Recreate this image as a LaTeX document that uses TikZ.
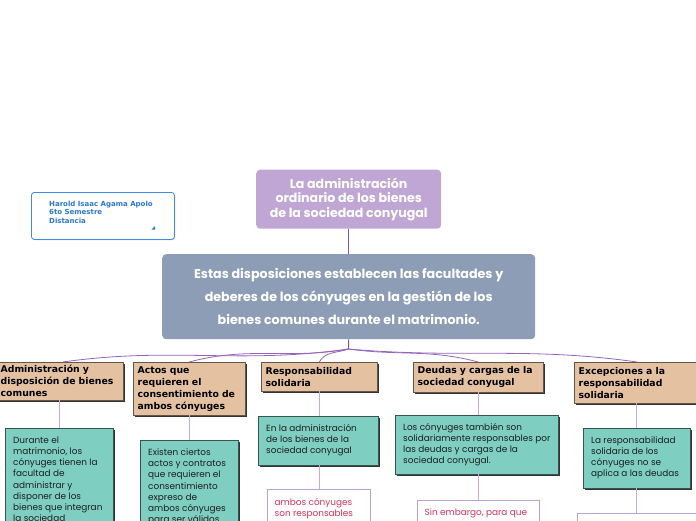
\documentclass[tikz,border=0pt]{standalone}
\usepackage{fontspec}
\setmainfont{Poppins}
\newfontfamily\dejavu{DejaVu Sans}
\usetikzlibrary{shadows}
\definecolor{titlebg}{RGB}{192,166,212}
\definecolor{mainbg}{RGB}{140,157,181}
\definecolor{tanbg}{RGB}{228,193,161}
\definecolor{tanline}{RGB}{100,85,70}
\definecolor{tealbg}{RGB}{126,206,193}
\definecolor{tealline}{RGB}{55,85,80}
\definecolor{wline}{RGB}{190,160,215}
\definecolor{redtxt}{RGB}{212,50,88}
\definecolor{curvecol}{RGB}{150,100,190}
\definecolor{vcol}{RGB}{200,170,222}
\definecolor{infoblue}{RGB}{40,120,215}
\definecolor{infoline}{RGB}{60,140,230}
\definecolor{darktxt}{RGB}{30,30,30}
\tikzset{
  titlebox/.style={fill=titlebg, rounded corners=4pt, inner sep=0pt, align=center, text=white,
    font=\fontsize{12.6}{14.6}\selectfont\bfseries},
  mainbox/.style={fill=mainbg, rounded corners=4pt, inner sep=0pt, align=center, text=white,
    font=\fontsize{12.7}{23}\selectfont\bfseries},
  infobox/.style={draw=infoline, line width=0.8pt, fill=white, rounded corners=3pt, inner sep=0pt,
    drop shadow={shadow xshift=0.6pt, shadow yshift=-0.8pt, fill=black!35, opacity=0.6}},
  infotext/.style={inner sep=0pt, align=left, text=infoblue, font=\dejavu\fontsize{7}{8.6}\selectfont\bfseries},
  tanbox/.style={fill=tanbg, draw=tanline, line width=0.4pt, inner xsep=4.5pt, inner ysep=3pt, align=left,
    text=black, font=\dejavu\fontsize{9.3}{12}\selectfont\bfseries,
    drop shadow={shadow xshift=1.8pt, shadow yshift=-1.8pt, fill=black!80, opacity=1}},
  tealbox/.style={fill=tealbg, draw=tealline, line width=0.4pt, inner sep=0pt,
    drop shadow={shadow xshift=1.8pt, shadow yshift=-1.8pt, fill=black!80, opacity=1}},
  wbox/.style={fill=white, draw=wline, line width=0.7pt, inner sep=0pt,
    drop shadow={shadow xshift=1.2pt, shadow yshift=-1.2pt, fill=wline!80!black, opacity=0.7}},
  tealtext/.style={inner sep=0pt, align=left, text=darktxt, font=\fontsize{8.9}{11.2}\selectfont},
  redtext/.style={inner sep=0pt, align=left, text=redtxt, font=\fontsize{8.9}{11.2}\selectfont},
  curve/.style={draw=curvecol, line width=0.8pt},
  vline/.style={draw=vcol, line width=0.8pt},
  topline/.style={draw=curvecol!85!black, line width=0.9pt},
}
\begin{document}
\begin{tikzpicture}[x=1pt,y=-1pt]
\useasboundingbox (0,0) rectangle (696,520);
\clip (0,0) rectangle (696,520);
\fill[white] (0,0) rectangle (696,520);

% info box
\node[infobox, minimum width=143pt, minimum height=47pt, anchor=north west] (info) at (31,192) {};
\node[infotext, anchor=north west] (infot) at (49,200.5) {Harold Isaac Agama Apolo\\6to Semestre\\Distancia};
\fill[infoblue] (151.5,229.5) -- (155,229.5) -- (155,226) -- cycle;

% title and main
\node[titlebox, minimum width=185pt, minimum height=59pt, anchor=north west] (title) at (256,169.5)
  {La administración\\ordinario de los bienes\\de la sociedad conyugal};
\node[mainbox, minimum width=373pt, minimum height=85pt, anchor=north west] (main) at (162,254)
  {Estas disposiciones establecen las facultades y\\deberes de los cónyuges en la gestión de los\\bienes comunes durante el matrimonio.};
\draw[topline] (title.south) -- (main.north);

% branches
\node[tanbox, minimum width=127pt, minimum height=38pt, text width=118pt, anchor=north west] (b1) at (-4,362)
  {Administración y\\disposición de bienes\\comunes};
\node[tanbox, minimum width=112pt, minimum height=53pt, text width=103pt, anchor=north west] (b2) at (133,362)
  {Actos que\\requieren el\\consentimiento de\\ambos cónyuges};
\node[tanbox, minimum width=116pt, minimum height=29pt, text width=107pt, anchor=north west] (b3) at (261,362)
  {Responsabilidad\\solidaria};
\node[tanbox, minimum width=130pt, minimum height=30pt, text width=121pt, anchor=north west] (b4) at (413,362)
  {Deudas y cargas de la\\sociedad conyugal};
\node[tanbox, minimum width=126pt, minimum height=41pt, text width=117pt, anchor=north west] (b5) at (574,362)
  {Excepciones a la\\responsabilidad\\solidaria};

% connectors main -> branches
\coordinate (j) at (348.5,349);
\draw[topline] (main.south) -- (j);
\draw[curve] (j) to[out=188,in=8] ([xshift=3pt]b1.north);
\draw[curve] (j) to[out=190,in=15] (b2.north);
\draw[curve] (j) to[out=200,in=60] (b3.north);
\draw[curve] (j) to[out=-8,in=165] (b4.north);
\draw[curve] (j) to[out=-5,in=172] (b5.north);

% teal boxes
\node[tealbox, minimum width=108pt, minimum height=110pt, anchor=north west] (t1) at (5,427.5) {};
\node[tealtext, anchor=north west] (t1t) at (13,436.5)
  {Durante el\\matrimonio, los\\cónyuges tienen la\\facultad de\\administrar y\\disponer de los\\bienes que integran\\la sociedad};
\node[tealbox, minimum width=98pt, minimum height=100pt, anchor=north west] (t2) at (140,439.5) {};
\node[tealtext, anchor=north west] (t2t) at (148,448.5)
  {Existen ciertos\\actos y contratos\\que requieren el\\consentimiento\\expreso de\\ambos cónyuges\\para ser válidos};
\node[tealbox, minimum width=120pt, minimum height=49pt, anchor=north west] (t3) at (258,415.5) {};
\node[tealtext, anchor=west] (t3t) at ([xshift=8pt]t3.west)
  {En la administración\\de los bienes de la\\sociedad conyugal};
\node[tealbox, minimum width=163pt, minimum height=59pt, anchor=north west] (t4) at (395,415) {};
\node[tealtext, anchor=west] (t4t) at ([xshift=8pt]t4.west)
  {Los cónyuges también son\\solidariamente responsables por\\las deudas y cargas de la\\sociedad conyugal.};
\node[tealbox, minimum width=107pt, minimum height=60pt, anchor=north west] (t5) at (583,427.5) {};
\node[tealtext, anchor=west] (t5t) at ([xshift=8pt]t5.west)
  {La responsabilidad\\solidaria de los\\cónyuges no se\\aplica a las deudas};

% white boxes
\node[wbox, minimum width=103pt, minimum height=60pt, anchor=north west] (w3) at (266.5,488.5) {};
\node[redtext, anchor=north west] (w3t) at (274.5,498.5) {ambos cónyuges\\son responsables};
\node[wbox, minimum width=122pt, minimum height=50pt, anchor=north west] (w4) at (416.5,499.5) {};
\node[redtext, anchor=north west] (w4t) at (424.5,508.5) {Sin embargo, para que};
\node[wbox, minimum width=124pt, minimum height=40pt, anchor=north west] (w5) at (576.5,512.5) {};

% vertical connectors
\draw[vline] (t1.north |- b1.south) -- (t1.north);
\draw[vline] (b2.south) -- (b2.south |- t2.north);
\draw[vline] (b3.south) -- (b3.south |- t3.north);
\draw[vline] (b3.south |- t3.south) -- (b3.south |- w3.north);
\draw[vline] (b4.south) -- (b4.south |- t4.north);
\draw[vline] (b4.south |- t4.south) -- (b4.south |- w4.north);
\draw[vline] (t5.north |- b5.south) -- (t5.north);
\draw[vline] (t5.south) -- (t5.south |- w5.north);
\end{tikzpicture}
\end{document}
